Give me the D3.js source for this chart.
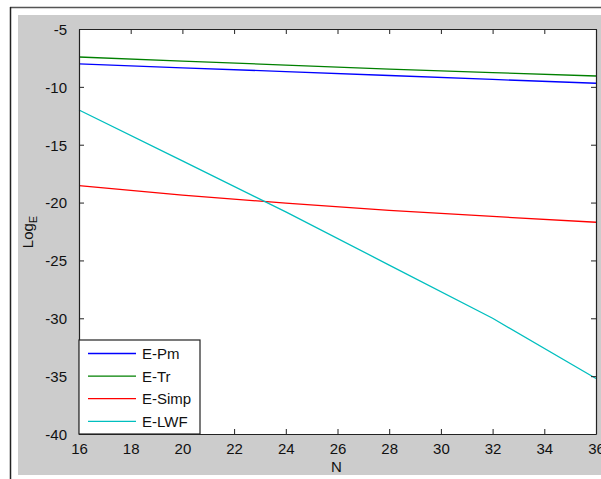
<!DOCTYPE html>
<html><head><meta charset="utf-8">
<script src="https://cdnjs.cloudflare.com/ajax/libs/d3/7.8.5/d3.min.js"></script>
<style>html,body{margin:0;padding:0;background:#fff;}svg{display:block;}</style>
</head><body>
<script>
const N = [16, 20, 24, 28, 32, 36];
const ePm   = [-8.02, -8.36, -8.68, -9.02, -9.36, -9.69];
const eTr   = [-7.42, -7.78, -8.12, -8.46, -8.77, -9.06];
const eSimp = [-18.54, -19.35, -20.05, -20.67, -21.20, -21.70];
const eLWF  = [-12.0, -16.4, -20.8, -25.4, -30.0, -35.2];
const seriesNames = ["E-Pm", "E-Tr", "E-Simp", "E-LWF"];
const seriesColors = ["#0000ff", "#008000", "#ff0000", "#00bfbf"];
const xTicks = [16, 18, 20, 22, 24, 26, 28, 30, 32, 34, 36];
const yTicks = [-5, -10, -15, -20, -25, -30, -35, -40];

const W = 601, H = 479;
const svg = d3.select("body").append("svg").attr("width", W).attr("height", H);
const font = "'Liberation Sans', Arial, sans-serif";

// figure background
svg.append("rect").attr("x", 18).attr("y", 15).attr("width", W - 18).attr("height", 460).attr("fill", "#cccccc");
svg.append("line").attr("x1", 10).attr("x2", W).attr("y1", 7.5).attr("y2", 7.5).attr("stroke", "#555").attr("stroke-width", 1.5);
svg.append("line").attr("x1", 10.5).attr("x2", 10.5).attr("y1", 7).attr("y2", H).attr("stroke", "#222").attr("stroke-width", 1.5);

const L = 79, R = 596, T = 29, B = 434;
const x = d3.scaleLinear().domain([16, 36]).range([L, R]);
const y = d3.scaleLinear().domain([-40, -5]).range([B, T]);

svg.append("rect").attr("x", L).attr("y", T).attr("width", R - L).attr("height", B - T).attr("fill", "#fff");

const data = [ePm, eTr, eSimp, eLWF];
const line = d3.line().x((d, i) => x(N[i])).y(d => y(d));
data.forEach((s, k) => {
  svg.append("path").datum(s).attr("d", line).attr("fill", "none")
    .attr("stroke", seriesColors[k]).attr("stroke-width", 1.3);
});

// axes
const fmt = d => String(d);
const tickLen = 5;
const gB = svg.append("g").attr("transform", `translate(0,${B})`)
  .call(d3.axisBottom(x).tickValues(xTicks).tickFormat(fmt).tickSizeInner(-tickLen).tickSizeOuter(0).tickPadding(9));
const gT = svg.append("g").attr("transform", `translate(0,${T})`)
  .call(d3.axisTop(x).tickValues(xTicks).tickSizeInner(-tickLen).tickSizeOuter(0).tickFormat(""));
const gL = svg.append("g").attr("transform", `translate(${L},0)`)
  .call(d3.axisLeft(y).tickValues(yTicks).tickFormat(fmt).tickSizeInner(-tickLen).tickSizeOuter(0).tickPadding(12));
const gR = svg.append("g").attr("transform", `translate(${R},0)`)
  .call(d3.axisRight(y).tickValues(yTicks).tickSizeInner(-tickLen).tickSizeOuter(0).tickFormat(""));
[gB, gT, gL, gR].forEach(g => {
  g.select(".domain").attr("stroke", "#222").attr("stroke-width", 1.2);
  g.selectAll(".tick line").attr("stroke", "#222");
  g.selectAll("text").attr("font-family", font).attr("font-size", 15).attr("fill", "#111");
});
gL.selectAll(".tick text").attr("dy", "0.36em");

// axis labels
svg.append("text").attr("x", (L + R) / 2 - 1).attr("y", 472).attr("text-anchor", "middle")
  .attr("font-family", font).attr("font-size", 15).attr("fill", "#111").text("N");
const yl = svg.append("text").attr("transform", "translate(33,232) rotate(-90)").attr("text-anchor", "middle")
  .attr("font-family", font).attr("font-size", 15).attr("fill", "#111");
yl.append("tspan").text("Log");
yl.append("tspan").attr("font-size", 11).attr("dy", 4).text("E");

// legend
const lg = svg.append("g");
lg.append("rect").attr("x", L).attr("y", 340).attr("width", 121).attr("height", B - 340)
  .attr("fill", "#fff").attr("stroke", "#222").attr("stroke-width", 1.2);
seriesNames.forEach((nm, k) => {
  const yy = 353.5 + k * 22.6;
  lg.append("line").attr("x1", 88).attr("x2", 136).attr("y1", yy).attr("y2", yy)
    .attr("stroke", seriesColors[k]).attr("stroke-width", 1.3);
  lg.append("text").attr("x", 142).attr("y", yy).attr("dy", "0.36em")
    .attr("font-family", font).attr("font-size", 15).attr("fill", "#111").text(nm);
});
</script>
</body></html>
